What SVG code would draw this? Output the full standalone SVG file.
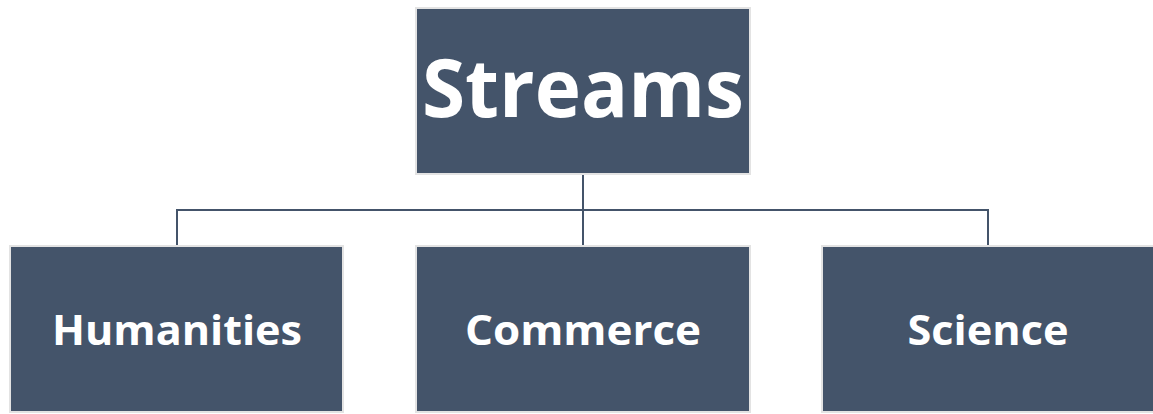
<svg xmlns="http://www.w3.org/2000/svg" width="1153" height="414" viewBox="0 0 1153 414">
<style>
.box{fill:#44546A;stroke:#E3E3E3;stroke-width:2}
.lbl{font-family:"Open Sans","Liberation Sans",sans-serif;font-weight:bold;fill:#FFFFFF;text-anchor:middle}
.con{fill:none;stroke:#44546A;stroke-width:2}
</style>
<rect width="1153" height="414" fill="#FFFFFF"/>
<g id="connectors">
<path class="con" d="M583,175 V245"/>
<path class="con" d="M177,245 V210 H988 V245"/>
</g>
<g id="streams">
<rect class="box" x="416" y="8" width="334" height="166"/>
<text class="lbl" x="583" y="117" font-size="80" textLength="322" lengthAdjust="spacingAndGlyphs">Streams</text>
</g>
<g id="humanities">
<rect class="box" x="10" y="246" width="333" height="166"/>
<text class="lbl" x="177" y="345" font-size="41" textLength="250" lengthAdjust="spacingAndGlyphs">Humanities</text>
</g>
<g id="commerce">
<rect class="box" x="416" y="246" width="334" height="166"/>
<text class="lbl" x="583" y="345" font-size="41" textLength="236" lengthAdjust="spacingAndGlyphs">Commerce</text>
</g>
<g id="science">
<rect class="box" x="822" y="246" width="334" height="166"/>
<text class="lbl" x="988" y="345" font-size="41" textLength="161" lengthAdjust="spacingAndGlyphs">Science</text>
</g>
</svg>
